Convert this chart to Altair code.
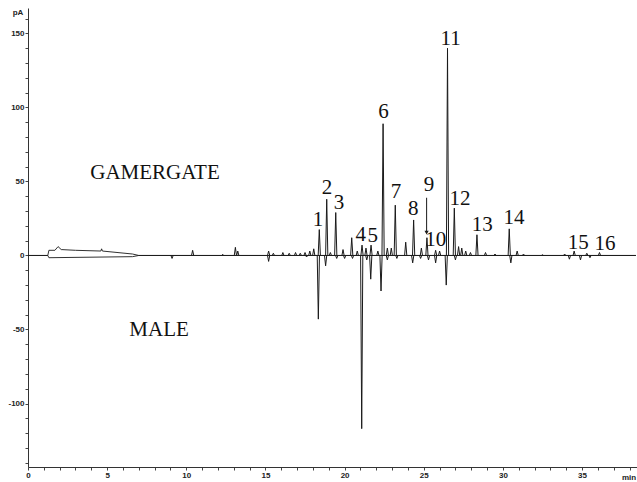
import altair as alt
import pandas as pd

# ---- data ----
# smooth baseline (solvent hump) for each trace, time in min, signal in pA
gam_base_t = [0, 1.25, 1.32, 1.7, 1.9, 2.1, 3.0, 4.6, 4.65, 4.7, 6.6, 7.0, 38.4]
gam_base_v = [0, 0, 3.5, 3.5, 6, 4, 3.5, 3, 4.5, 3, 1, 0, 0]
male_base_t = [0, 1.25, 1.32, 6.6, 7.0, 38.4]
male_base_v = [0, 0, -1.5, -0.8, 0, 0]

# gamergate peaks (retention time, height)
gam_peak_t = [10.4, 12.3, 13.1, 13.25, 15.2, 15.5, 16.1, 16.5, 16.9, 17.2, 17.5, 17.8, 18.05,
              18.4, 18.87, 19.1, 19.44, 19.9, 20.45, 20.8, 21.1, 21.35, 21.67, 22.1,
              22.43, 22.7, 22.95, 23.2, 23.86, 24.36, 24.85, 25.2, 25.75, 26.0,
              26.5, 26.93, 27.2, 27.4, 27.65, 27.95, 28.36, 28.9, 29.5, 30.4, 30.9,
              31.3, 32.5, 33.9, 34.5, 35.3, 36.1]
gam_peak_v = [3.5, 0.8, 5.5, 3, 3, 1.5, 2, 1.5, 2, 1.5, 2, 3, 4.5,
              17.5, 38, 2, 29, 4, 12, 3, 7, 5, 7, 3,
              89, 5, 5, 34, 9, 24, 5, 12, 3.5, 3,
              140, 32, 6, 5, 3, 2, 14, 2, 1, 18, 3,
              1, 0.5, 1, 3, 1.5, 2]

# male peaks, drawn downwards
male_peak_t = [9.1, 15.2, 17.6, 18.34, 18.8, 19.5, 20.0, 20.5, 21.08, 21.4, 21.65, 22.3,
               22.7, 23.3, 24.3, 24.8, 25.3, 25.75, 26.42, 27.0, 30.5, 34.2, 34.9, 35.5]
male_peak_v = [-2, -4, -1, -43, -7, -2, -2, -2, -117, -3, -16, -24,
               -3, -2, -5, -2, -3, -5, -20, -3, -5, -2.5, -3, -1.5]

# peak numbers and their label positions
label_text = [str(i) for i in range(1, 17)]
label_t = [18.32, 18.89, 19.65, 21.02, 21.78, 22.45, 23.25, 24.34, 25.33, 25.76,
           26.7, 27.29, 28.7, 30.7, 34.76, 36.45]
label_v = [24.0, 45.3, 35.5, 13.9, 13.2, 97.2, 43.2, 31.4, 47.6, 10.5,
           146.1, 38.2, 20.6, 25.1, 8.2, 7.6]

group_text = ["GAMERGATE", "MALE"]
group_t = [8.02, 8.28]
group_v = [55.7, -50.3]

arrow_t = [25.18]
arrow_from = [39.0]
arrow_to = [15.5]

unit_y_text = ["pA"]
unit_y_t = [-0.63]
unit_y_v = [163.9]
unit_x_text = ["min"]
unit_x_t = [37.52]
unit_x_v = [-150.3]

X_DOMAIN = [0, 38.47]
Y_DOMAIN = [-142.9, 167.2]
PEAK_HALF = 0.07
INK = "#1a1a1a"

# ---- tables ----
base_rows = [{"trace": "gamergate", "t": t, "v": v} for t, v in zip(gam_base_t, gam_base_v)]
base_rows += [{"trace": "male", "t": t, "v": v} for t, v in zip(male_base_t, male_base_v)]
base_df = pd.DataFrame(base_rows)

peak_rows = []
k = 0
for series_t, series_v in ((gam_peak_t, gam_peak_v), (male_peak_t, male_peak_v)):
    for t, v in zip(series_t, series_v):
        peak_rows.append({"id": k, "o": 0, "t": t - PEAK_HALF, "v": 0})
        peak_rows.append({"id": k, "o": 1, "t": t, "v": v})
        peak_rows.append({"id": k, "o": 2, "t": t + PEAK_HALF, "v": 0})
        k += 1
peak_df = pd.DataFrame(peak_rows)

label_df = pd.DataFrame({"label": label_text, "t": label_t, "v": label_v})
group_df = pd.DataFrame({"label": group_text, "t": group_t, "v": group_v})
arrow_df = pd.DataFrame({"t": arrow_t, "v": arrow_from, "v2": arrow_to})
unit_y_df = pd.DataFrame({"label": unit_y_text, "t": unit_y_t, "v": unit_y_v})
unit_x_df = pd.DataFrame({"label": unit_x_text, "t": unit_x_t, "v": unit_x_v})

x_scale = alt.Scale(domain=X_DOMAIN, nice=False, zero=False)
y_scale = alt.Scale(domain=Y_DOMAIN, nice=False, zero=False)

axis_style = dict(title=None, grid=False, tickSize=3, labelPadding=1, labelFont="Liberation Sans",
                  labelFontWeight="bold", labelFontSize=8, labelColor="#222", domainColor="#333",
                  tickColor="#444", labelFlush=False, labelOverlap=False)
x_axis = alt.Axis(values=list(range(0, 39)),
                  labelExpr="datum.value % 5 == 0 ? toString(datum.value) : ''", **axis_style)
y_axis = alt.Axis(values=list(range(-140, 170, 10)),
                  labelExpr="datum.value % 50 == 0 ? toString(datum.value) : ''", **axis_style)

X = alt.X("t:Q", scale=x_scale, axis=x_axis)
Y = alt.Y("v:Q", scale=y_scale, axis=y_axis)
Y2 = alt.Y("v2:Q", scale=y_scale, axis=y_axis)

base = alt.Chart(base_df).mark_line(color=INK, strokeWidth=0.9).encode(
    x=X, y=Y, detail="trace:N")

peaks = alt.Chart(peak_df).mark_line(color=INK, strokeWidth=1).encode(
    x=X, y=Y, detail="id:N", order="o:Q")

labels = alt.Chart(label_df).mark_text(font="Liberation Serif", fontSize=21, color="#111",
                                       baseline="middle", align="center").encode(
    x=X, y=Y, text="label:N")

groups = alt.Chart(group_df).mark_text(font="Liberation Serif", fontSize=21, color="#111",
                                       baseline="middle", align="center").encode(
    x=X, y=Y, text="label:N")

arrow_line = alt.Chart(arrow_df).mark_rule(color=INK, strokeWidth=1).encode(
    x=X, y=Y, y2="v2:Q")
arrow_head = alt.Chart(arrow_df).mark_point(shape="triangle-down", filled=True, size=18,
                                            color=INK, opacity=1).encode(
    x=X, y=Y2)

unit_y = alt.Chart(unit_y_df).mark_text(font="Liberation Sans", fontWeight="bold", fontSize=8,
                                        color="#222", baseline="middle", align="center").encode(
    x=X, y=Y, text="label:N")
unit_x = alt.Chart(unit_x_df).mark_text(font="Liberation Sans", fontWeight="bold", fontSize=8,
                                        color="#222", baseline="middle", align="left").encode(
    x=X, y=Y, text="label:N")

chart = alt.layer(base, peaks, arrow_line, arrow_head, labels, groups, unit_y, unit_x).properties(
    width=609, height=459,
    autosize=alt.AutoSizeParams(type="none"),
    padding={"left": 28, "top": 8, "right": 0, "bottom": 15},
    background="white",
).configure_view(stroke=None).configure_axis(labelOverlap=False)

chart.save("out.html", embed_options={"renderer": "svg", "actions": False})
